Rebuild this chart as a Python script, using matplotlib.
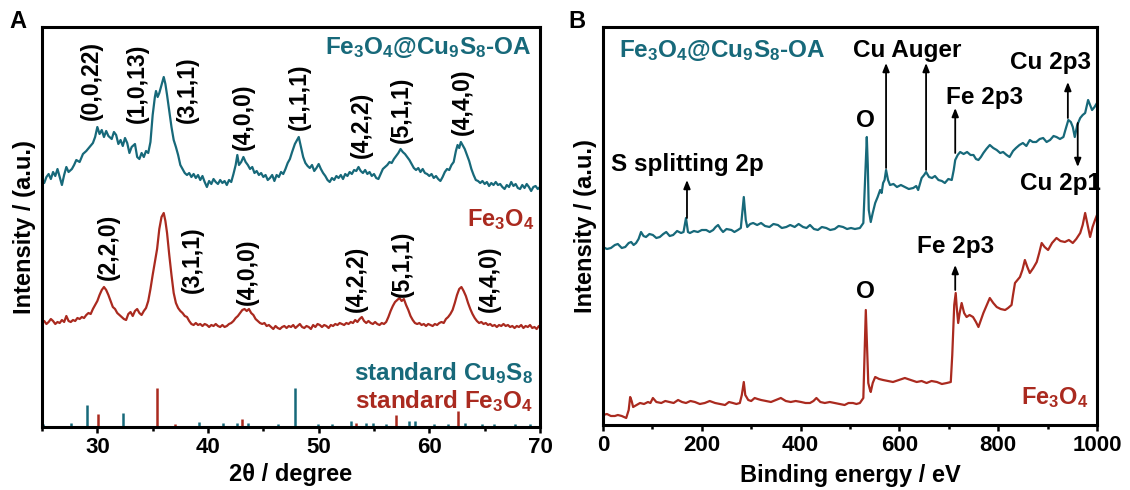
import matplotlib
matplotlib.use("Agg")
import matplotlib.pyplot as plt

plt.rcParams['font.family'] = ['Liberation Sans', 'DejaVu Sans']
plt.rcParams['font.weight'] = 'bold'
plt.rcParams['axes.labelweight'] = 'bold'
plt.rcParams['mathtext.fontset'] = 'custom'
plt.rcParams['mathtext.rm'] = 'Liberation Sans:bold'
plt.rcParams['mathtext.it'] = 'Liberation Sans:bold'
plt.rcParams['mathtext.bf'] = 'Liberation Sans:bold'
plt.rcParams['mathtext.default'] = 'rm'

TEAL = '#17697a'
RED = '#aa2a1f'

# ---- XRD (panel A) ----
xrd_oa_2theta = [25.0, 25.2, 25.4, 25.6, 25.8, 26.0, 26.2, 26.4, 26.6, 26.8, 27.0, 27.2, 27.4, 27.7, 27.9,
                 28.1, 28.4, 28.7, 29.0, 29.3, 29.6, 29.8, 30.0, 30.2, 30.4, 30.6, 30.8, 31.0, 31.3, 31.5,
                 31.7, 31.9, 32.1, 32.3, 32.5, 32.7, 32.9, 33.1, 33.4, 33.6, 33.8, 34.0, 34.2, 34.4, 34.6,
                 34.8, 35.0, 35.2, 35.3, 35.45, 35.6, 35.8, 36.0, 36.15, 36.3, 36.5, 36.7, 36.9, 37.1, 37.3,
                 37.5, 37.7, 37.9, 38.1, 38.3, 38.5, 38.7, 38.9, 39.1, 39.3, 39.5, 39.7, 39.9, 40.1, 40.3,
                 40.5, 40.7, 40.9, 41.1, 41.3, 41.5, 41.7, 41.9, 42.1, 42.3, 42.5, 42.65, 42.8, 43.0, 43.2,
                 43.4, 43.6, 43.8, 44.0, 44.2, 44.4, 44.6, 44.8, 45.0, 45.2, 45.4, 45.6, 45.8, 46.0, 46.2,
                 46.4, 46.6, 46.8, 47.0, 47.2, 47.4, 47.6, 47.85, 48.0, 48.2, 48.4, 48.6, 48.8, 49.0, 49.2,
                 49.4, 49.6, 49.8, 50.0, 50.2, 50.4, 50.6, 50.8, 51.0, 51.2, 51.4, 51.6, 51.8, 52.0, 52.2,
                 52.4, 52.6, 52.8, 53.0, 53.2, 53.4, 53.6, 53.8, 54.0, 54.2, 54.4, 54.6, 54.8, 55.0, 55.2,
                 55.4, 55.6, 55.8, 56.0, 56.2, 56.4, 56.6, 56.8, 57.0, 57.2, 57.4, 57.6, 57.8, 58.0, 58.2,
                 58.4, 58.6, 58.8, 59.0, 59.2, 59.4, 59.6, 59.8, 60.0, 60.2, 60.4, 60.6, 60.8, 61.0, 61.2,
                 61.4, 61.6, 61.8, 62.0, 62.2, 62.4, 62.55, 62.7, 62.85, 63.0, 63.2, 63.4, 63.6, 63.8, 64.0,
                 64.2, 64.4, 64.6, 64.8, 65.0, 65.2, 65.4, 65.6, 65.8, 66.0, 66.2, 66.4, 66.6, 66.8, 67.0,
                 67.2, 67.4, 67.6, 67.8, 68.0, 68.2, 68.4, 68.6, 68.8, 69.0, 69.2, 69.4, 69.6, 69.8, 70.0]
xrd_oa_int = [247, 244, 250, 253, 248, 255, 251, 258, 250, 242, 252, 260, 255, 258, 262,
              267, 265, 273, 276, 280, 284, 290, 300, 293, 297, 290, 296, 291, 288, 295,
              292, 283, 287, 281, 289, 284, 274, 280, 283, 270, 268, 274, 270, 276, 274,
              285, 312, 330, 336, 330, 334, 342, 350, 343, 332, 316, 300, 287, 280, 272,
              262, 258, 254, 252, 254, 250, 253, 249, 252, 247, 251, 245, 240, 246, 243,
              248, 245, 243, 247, 244, 246, 242, 247, 245, 253, 262, 272, 262, 265, 270,
              265, 262, 258, 260, 254, 256, 252, 254, 250, 252, 247, 249, 252, 246, 252,
              250, 255, 253, 258, 264, 268, 275, 283, 286, 290, 280, 270, 264, 261, 259,
              262, 256, 259, 263, 258, 254, 251, 247, 245, 249, 247, 251, 249, 252, 248,
              253, 251, 255, 253, 257, 256, 260, 256, 254, 257, 253, 255, 251, 253, 249,
              248, 253, 258, 260, 262, 265, 264, 268, 271, 274, 278, 275, 273, 270, 267,
              263, 259, 257, 259, 255, 258, 254, 253, 251, 253, 249, 251, 248, 246, 250,
              255, 258, 257, 262, 265, 276, 282, 279, 285, 282, 278, 272, 266, 258, 252,
              247, 246, 244, 246, 243, 245, 241, 244, 242, 245, 242, 243, 240, 238, 242,
              240, 245, 241, 243, 239, 238, 242, 239, 243, 240, 236, 240, 241, 238, 240]

xrd_fe_2theta = [25.0, 25.2, 25.4, 25.6, 25.8, 26.0, 26.2, 26.4, 26.6, 26.8, 27.0, 27.2, 27.4, 27.6, 27.8,
                 28.0, 28.2, 28.4, 28.6, 28.8, 29.0, 29.2, 29.4, 29.6, 29.8, 30.0, 30.2, 30.4, 30.6, 30.8,
                 31.0, 31.2, 31.4, 31.6, 31.8, 32.0, 32.2, 32.4, 32.6, 32.8, 33.0, 33.2, 33.4, 33.6, 33.8,
                 34.0, 34.2, 34.4, 34.6, 34.8, 35.0, 35.2, 35.4, 35.6, 35.8, 36.0, 36.15, 36.3, 36.5, 36.7,
                 36.9, 37.1, 37.3, 37.5, 37.7, 37.9, 38.1, 38.3, 38.5, 38.7, 38.9, 39.1, 39.3, 39.5, 39.7,
                 39.9, 40.1, 40.3, 40.5, 40.7, 40.9, 41.1, 41.3, 41.5, 41.7, 41.9, 42.1, 42.3, 42.5, 42.7,
                 42.9, 43.1, 43.3, 43.5, 43.7, 43.9, 44.1, 44.3, 44.5, 44.7, 44.9, 45.1, 45.3, 45.5, 45.7,
                 45.9, 46.1, 46.3, 46.5, 46.7, 46.9, 47.1, 47.3, 47.5, 47.7, 47.9, 48.1, 48.3, 48.5, 48.7,
                 48.9, 49.1, 49.3, 49.5, 49.7, 49.9, 50.1, 50.3, 50.5, 50.7, 50.9, 51.1, 51.3, 51.5, 51.7,
                 51.9, 52.1, 52.3, 52.5, 52.7, 52.9, 53.1, 53.3, 53.5, 53.7, 53.9, 54.1, 54.3, 54.5, 54.7,
                 54.9, 55.1, 55.3, 55.5, 55.7, 55.9, 56.1, 56.3, 56.5, 56.7, 56.9, 57.1, 57.3, 57.5, 57.7,
                 57.9, 58.1, 58.3, 58.5, 58.7, 58.9, 59.1, 59.3, 59.5, 59.7, 59.9, 60.1, 60.3, 60.5, 60.7,
                 60.9, 61.1, 61.3, 61.5, 61.7, 61.9, 62.1, 62.3, 62.5, 62.7, 62.9, 63.1, 63.3, 63.5, 63.7,
                 63.9, 64.1, 64.3, 64.5, 64.7, 64.9, 65.1, 65.3, 65.5, 65.7, 65.9, 66.1, 66.3, 66.5, 66.7,
                 66.9, 67.1, 67.3, 67.5, 67.7, 67.9, 68.1, 68.3, 68.5, 68.7, 68.9, 69.1, 69.3, 69.5, 69.7,
                 69.9, 70.0]
xrd_fe_int = [104, 106, 103, 105, 108, 106, 103, 105, 104, 107, 105, 111, 106, 105, 107,
              106, 109, 108, 110, 109, 112, 114, 113, 118, 122, 126, 132, 137, 140, 137,
              132, 126, 120, 118, 114, 112, 110, 108, 107, 113, 115, 111, 116, 118, 114,
              112, 116, 119, 126, 138, 152, 165, 178, 198, 210, 214, 206, 194, 172, 152,
              134, 124, 119, 116, 114, 111, 110, 106, 103, 102, 104, 102, 103, 101, 103,
              102, 100, 102, 101, 103, 101, 100, 102, 100, 101, 103, 104, 106, 109, 111,
              114, 117, 118, 116, 118, 114, 112, 108, 106, 104, 103, 104, 101, 102, 100,
              98, 101, 99, 98, 100, 101, 99, 101, 100, 102, 99, 101, 103, 100, 99,
              101, 100, 98, 102, 100, 103, 102, 100, 102, 101, 99, 102, 101, 103, 102,
              104, 103, 102, 104, 103, 105, 104, 107, 105, 108, 110, 106, 104, 106, 104,
              103, 105, 103, 102, 104, 103, 105, 110, 116, 121, 125, 127, 129, 126, 128,
              122, 117, 111, 107, 104, 103, 104, 102, 103, 101, 103, 102, 101, 103, 102,
              104, 105, 104, 108, 110, 113, 117, 124, 132, 138, 140, 136, 131, 124, 118,
              113, 109, 106, 104, 105, 103, 104, 102, 103, 101, 102, 100, 102, 101, 103,
              101, 102, 100, 101, 99, 101, 100, 102, 99, 101, 100, 102, 99, 100, 98,
              101, 100]

std_cu9s8_2theta = [25.1, 27.6, 29.1, 32.3, 39.2, 41.4, 42.6, 43.6, 46.3, 47.9, 49.9, 51.2, 52.9,
                    54.3, 54.9, 56.1, 58.2, 58.7, 60.4, 61.7, 63.2, 64.8, 65.8, 67.7, 69.1]
std_cu9s8_int = [3, 4, 22, 14, 5, 4, 4, 4, 3, 39, 3, 3, 6, 4, 4, 3, 6, 6, 3, 3, 4, 3, 3, 3, 3]
std_fe3o4_2theta = [30.1, 35.4, 37.0, 43.1, 53.4, 57.0, 62.6]
std_fe3o4_int = [13, 39, 3, 8, 4, 12, 16]

hkl_oa = ['(0,0,22)', '(1,0,13)', '(3,1,1)', '(4,0,0)', '(1,1,1)', '(4,2,2)', '(5,1,1)', '(4,4,0)']
hkl_oa_x = [29.5, 33.6, 38.1, 43.2, 48.3, 53.9, 57.5, 63.0]
hkl_oa_y = [307, 304, 304, 277, 297, 269, 284, 292]
hkl_fe = ['(2,2,0)', '(3,1,1)', '(4,0,0)', '(4,2,2)', '(5,1,1)', '(4,4,0)']
hkl_fe_x = [31.0, 38.6, 43.6, 53.4, 57.6, 65.4]
hkl_fe_y = [147, 134, 122, 115, 130, 115]

# ---- XPS survey (panel B) ----
xps_oa_be = [0, 8, 16, 24, 30, 38, 45, 52, 57, 62, 67, 72, 77, 82, 87, 94, 101, 108, 115, 122,
             128, 135, 142, 150, 158, 163, 168, 172, 176, 184, 192, 200, 209, 216, 223, 228, 233, 238,
             243, 250, 260, 266, 273, 279, 285, 289, 292, 298, 304, 312, 320, 328, 337, 345, 354, 362,
             371, 379, 388, 396, 405, 412, 419, 427, 435, 443, 452, 460, 469, 477, 486, 494, 502, 510,
             520, 527, 531, 534, 536, 538, 542, 546, 551, 556, 561, 564, 567, 570, 573, 577, 581, 588,
             595, 603, 611, 619, 628, 634, 638, 642, 645, 650, 654, 660, 666, 672, 679, 686, 692, 699,
             706, 710, 713, 718, 723, 730, 737, 744, 750, 755, 760, 765, 770, 776, 783, 790, 797, 804,
             810, 817, 823, 830, 836, 843, 850, 857, 864, 870, 877, 884, 891, 898, 905, 912, 918, 925,
             932, 936, 942, 947, 951, 955, 960, 966, 971, 976, 982, 986, 990, 995, 1000]
xps_oa_int = [178, 176, 177, 180, 181, 177, 178, 182, 183, 180, 182, 186, 193, 189, 188, 191, 190, 187, 188, 191,
              193, 189, 190, 194, 192, 193, 207, 193, 192, 194, 193, 195, 195, 193, 195, 198, 200, 196,
              193, 196, 195, 193, 195, 197, 228, 205, 198, 201, 202, 200, 202, 199, 198, 201, 200, 197,
              198, 200, 198, 201, 198, 197, 200, 196, 195, 198, 197, 195, 196, 199, 198, 196, 197, 196,
              197, 202, 250, 288, 260, 215, 203, 212, 222, 228, 235, 232, 242, 245, 255, 245, 240, 241,
              238, 240, 238, 236, 237, 239, 235, 242, 247, 250, 253, 248, 247, 249, 245, 244, 242, 246,
              245, 255, 265, 270, 273, 271, 273, 270, 270, 266, 265, 268, 272, 276, 280, 277, 275, 272,
              273, 270, 268, 274, 277, 280, 282, 279, 285, 283, 283, 286, 287, 283, 285, 289, 288, 286,
              288, 295, 305, 303, 298, 288, 300, 307, 310, 312, 325, 320, 315, 318, 322]

xps_fe_be = [0, 8, 16, 24, 30, 38, 47, 52, 55, 58, 61, 68, 75, 83, 91, 96, 101, 108, 118, 126,
             135, 143, 152, 160, 168, 177, 186, 196, 206, 216, 227, 237, 247, 255, 263, 270, 277, 281,
             285, 288, 294, 300, 307, 313, 320, 330, 340, 350, 360, 370, 380, 390, 401, 410, 419, 426,
             432, 440, 449, 459, 469, 479, 489, 497, 506, 513, 520, 527, 530, 532, 534, 537, 540, 542,
             546, 551, 559, 567, 577, 587, 599, 611, 623, 635, 645, 655, 665, 676, 686, 696, 704, 707,
             709, 711, 714, 716, 719, 722, 726, 731, 736, 742, 749, 755, 760, 765, 770, 777, 783, 790,
             797, 805, 814, 820, 827, 830, 834, 839, 844, 849, 854, 859, 864, 871, 878, 883, 888, 894,
             901, 909, 918, 926, 935, 943, 951, 958, 966, 971, 976, 981, 986, 991, 996, 1000]
xps_fe_int = [10, 11, 9, 9, 10, 9, 7, 15, 28, 24, 18, 20, 22, 21, 23, 22, 27, 23, 22, 24,
              23, 22, 25, 23, 22, 24, 23, 21, 22, 24, 22, 21, 20, 23, 22, 21, 22, 30,
              43, 30, 25, 24, 27, 26, 25, 24, 23, 25, 27, 24, 23, 24, 23, 22, 22, 24,
              27, 23, 22, 23, 22, 21, 20, 22, 22, 21, 22, 27, 80, 115, 85, 42, 36, 33,
              42, 48, 46, 45, 44, 43, 45, 47, 45, 43, 44, 42, 44, 43, 41, 42, 43, 70,
              95, 120, 132, 118, 102, 112, 122, 112, 108, 110, 108, 103, 98, 105, 112, 120, 127, 122,
              118, 116, 115, 117, 120, 130, 142, 145, 148, 155, 165, 158, 152, 157, 163, 172, 182, 178,
              175, 182, 187, 184, 183, 185, 182, 186, 192, 200, 212, 200, 188, 198, 205, 210]

fig = plt.figure(figsize=(11.3, 4.9), dpi=100)
W, H = 1130, 490
axA = fig.add_axes([42 / W, 1 - 427 / H, 498 / W, 400 / H])
axB = fig.add_axes([603 / W, 1 - 425 / H, 494 / W, 398 / H])

for ax in (axA, axB):
    for s in ax.spines.values():
        s.set_linewidth(2.2)
    ax.set_yticks([])
    ax.tick_params(axis='x', which='both', direction='out', width=1.8, labelsize=16, pad=3)
    ax.tick_params(axis='x', which='major', length=4)
    ax.tick_params(axis='x', which='minor', length=3)

# panel A
axA.plot(xrd_oa_2theta, xrd_oa_int, color=TEAL, lw=1.6)
axA.plot(xrd_fe_2theta, xrd_fe_int, color=RED, lw=1.6)
axA.vlines(std_cu9s8_2theta, 0, std_cu9s8_int, color=TEAL, lw=1.8)
axA.vlines(std_fe3o4_2theta, 0, std_fe3o4_int, color=RED, lw=1.8)
for t, x, y in zip(hkl_oa, hkl_oa_x, hkl_oa_y):
    axA.text(x, y, t, rotation=90, ha='center', va='bottom', fontsize=16.5)
for t, x, y in zip(hkl_fe, hkl_fe_x, hkl_fe_y):
    axA.text(x, y, t, rotation=90, ha='center', va='bottom', fontsize=16.5)
axA.text(69.2, 380, r'Fe$_3$O$_4$@Cu$_9$S$_8$-OA', color=TEAL, ha='right', va='center', fontsize=17.5)
axA.text(69.5, 207, r'Fe$_3$O$_4$', color=RED, ha='right', va='center', fontsize=17)
axA.text(69.4, 54, r'standard Cu$_9$S$_8$', color=TEAL, ha='right', va='center', fontsize=17.5)
axA.text(69.4, 26, r'standard Fe$_3$O$_4$', color=RED, ha='right', va='center', fontsize=17.5)
axA.set_xlim(25, 70)
axA.set_ylim(0, 400)
axA.set_xticks([30, 40, 50, 60, 70])
axA.set_xticks([25, 35, 45, 55, 65], minor=True)
axA.set_xlabel('2θ / degree', fontsize=17, labelpad=4)
axA.set_ylabel('Intensity / (a.u.)', fontsize=17, labelpad=4)

# panel B
axB.plot(xps_oa_be, xps_oa_int, color=TEAL, lw=1.6)
axB.plot(xps_fe_be, xps_fe_int, color=RED, lw=1.6)
arrow = dict(arrowstyle='-|>,head_length=0.5,head_width=0.2', color='black', lw=1.3, shrinkA=0, shrinkB=0)
arrows = [(170, 207, 245), (573, 257, 362), (654, 255, 362), (713, 272, 317),
          (941, 307, 343), (961, 302, 258), (713, 135, 160)]
for x, y0, y1 in arrows:
    axB.annotate('', xy=(x, y1), xytext=(x, y0), arrowprops=arrow)
axB.text(32, 375, r'Fe$_3$O$_4$@Cu$_9$S$_8$-OA', color=TEAL, ha='left', va='center', fontsize=17.5)
axB.text(982, 27, r'Fe$_3$O$_4$', color=RED, ha='right', va='center', fontsize=17)
axB.text(615, 375, 'Cu Auger', ha='center', va='center', fontsize=17.5)
axB.text(773, 328, 'Fe 2p3', ha='center', va='center', fontsize=17.5)
axB.text(905, 363, 'Cu 2p3', ha='center', va='center', fontsize=17.5)
axB.text(925, 242, 'Cu 2p1', ha='center', va='center', fontsize=17.5)
axB.text(16, 261, 'S splitting 2p', ha='left', va='center', fontsize=17.5)
axB.text(532, 305, 'O', ha='center', va='center', fontsize=17.5)
axB.text(713, 178, 'Fe 2p3', ha='center', va='center', fontsize=17.5)
axB.text(532, 133, 'O', ha='center', va='center', fontsize=17.5)
axB.set_xlim(0, 1000)
axB.set_ylim(0, 398)
axB.set_xticks([0, 200, 400, 600, 800, 1000])
axB.set_xticks([100, 300, 500, 700, 900], minor=True)
axB.set_xlabel('Binding energy / eV', fontsize=17, labelpad=6)
axB.set_ylabel('Intensity / (a.u.)', fontsize=17, labelpad=4)

for ax in (axA, axB):
    for lab in ax.get_xticklabels():
        lab.set_fontweight('bold')

fig.text(18 / W, 1 - 22 / H, 'A', fontsize=17, ha='center', va='center')
fig.text(577 / W, 1 - 22 / H, 'B', fontsize=17, ha='center', va='center')

fig.savefig('out.png', dpi=100)
